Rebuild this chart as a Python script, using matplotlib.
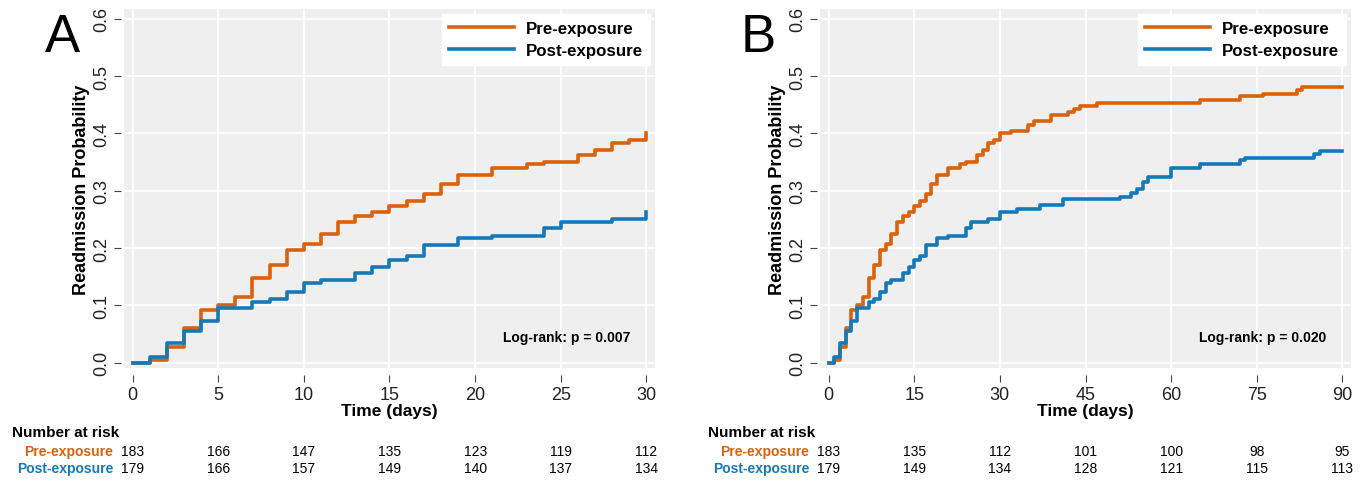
import matplotlib.pyplot as plt
from matplotlib.transforms import blended_transform_factory

plt.rcParams['font.family'] = ['Liberation Sans', 'DejaVu Sans']

ORANGE = "#D9620B"
BLUE = "#1579B8"

# Panel A: 30-day readmission (step times, cumulative probability)
a_pre_t = [0, 1, 2, 3, 4, 5, 6, 7, 8, 9, 10, 11, 12, 13, 14, 15, 16, 17, 18, 19,
           21, 23, 24, 26, 27, 28, 29, 30]
a_pre_p = [0.0, 0.005, 0.028, 0.060, 0.093, 0.100, 0.114, 0.148, 0.170, 0.197, 0.207,
           0.224, 0.246, 0.256, 0.263, 0.274, 0.283, 0.295, 0.311, 0.328,
           0.339, 0.346, 0.350, 0.362, 0.372, 0.383, 0.389, 0.400]
a_post_t = [0, 1, 2, 3, 4, 5, 7, 8, 9, 10, 11, 13, 14, 15, 16, 17, 19, 21, 24, 25, 28, 30]
a_post_p = [0.0, 0.010, 0.034, 0.056, 0.073, 0.096, 0.106, 0.112, 0.124, 0.140, 0.145,
            0.156, 0.167, 0.179, 0.186, 0.206, 0.218, 0.222, 0.235, 0.246, 0.251, 0.263]

# Panel B: 90-day readmission
b_pre_t = [0, 1, 2, 3, 4, 5, 6, 7, 8, 9, 10, 11, 12, 13, 14, 15, 16, 17, 18, 19,
           21, 23, 24, 26, 27, 28, 29, 30, 32, 35, 36, 39, 42, 43, 44, 47, 65, 72, 76, 82, 83, 90]
b_pre_p = [0.0, 0.005, 0.028, 0.060, 0.093, 0.100, 0.114, 0.148, 0.170, 0.197, 0.207,
           0.224, 0.246, 0.256, 0.263, 0.274, 0.283, 0.295, 0.311, 0.328,
           0.339, 0.346, 0.350, 0.362, 0.372, 0.383, 0.389, 0.400, 0.405, 0.414, 0.421,
           0.432, 0.437, 0.443, 0.448, 0.453, 0.459, 0.465, 0.469, 0.475, 0.481, 0.481]
b_post_t = [0, 1, 2, 3, 4, 5, 7, 8, 9, 10, 11, 13, 14, 15, 16, 17, 19, 21, 24, 25, 28, 30,
            33, 37, 41, 51, 53, 54, 55, 56, 60, 65, 72, 73, 85, 86, 90]
b_post_p = [0.0, 0.010, 0.034, 0.056, 0.073, 0.096, 0.106, 0.112, 0.124, 0.140, 0.145,
            0.156, 0.167, 0.179, 0.186, 0.206, 0.218, 0.222, 0.235, 0.246, 0.251, 0.263,
            0.269, 0.275, 0.285, 0.290, 0.297, 0.304, 0.315, 0.324, 0.340, 0.347, 0.353,
            0.357, 0.365, 0.369, 0.369]

a_ticks = [0, 5, 10, 15, 20, 25, 30]
b_ticks = [0, 15, 30, 45, 60, 75, 90]
a_risk_pre = [183, 166, 147, 135, 123, 119, 112]
a_risk_post = [179, 166, 157, 149, 140, 137, 134]
b_risk_pre = [183, 135, 112, 101, 100, 98, 95]
b_risk_post = [179, 149, 134, 128, 121, 115, 113]

fig = plt.figure(figsize=(13.68, 4.85), dpi=100)
W, H = 1368, 485


def fy(px):
    return 1 - px / H


panels = [
    ("A", 124, a_pre_t, a_pre_p, a_post_t, a_post_p, a_ticks, a_risk_pre, a_risk_post,
     "Log-rank: p = 0.007", 30),
    ("B", 820, b_pre_t, b_pre_p, b_post_t, b_post_p, b_ticks, b_risk_pre, b_risk_post,
     "Log-rank: p = 0.020", 90),
]

for letter, left, pt, pp, qt, qp, ticks, rpre, rpost, lr, xmax in panels:
    ax = fig.add_axes([left / W, fy(369), 531 / W, 359 / H])
    ax.set_facecolor("#EFEFEF")
    ax.step(pt, pp, where="post", color=ORANGE, lw=2.6, label="Pre-exposure")
    ax.step(qt, qp, where="post", color=BLUE, lw=2.6, label="Post-exposure")
    pad = xmax / 60
    ax.set_xlim(-pad, xmax + pad)
    ax.set_ylim(-0.009, 0.617)
    ax.set_xticks(ticks)
    ax.set_yticks([0, 0.1, 0.2, 0.3, 0.4, 0.5, 0.6])
    ax.set_yticklabels(["0.0", "0.1", "0.2", "0.3", "0.4", "0.5", "0.6"])
    ax.grid(True, color="white", lw=1.3)
    ax.set_axisbelow(True)
    for s in ax.spines.values():
        s.set_visible(False)
    ax.spines["bottom"].set_position(("outward", 5))
    ax.spines["left"].set_position(("outward", 2))
    ax.tick_params(axis="both", length=5, color="#444444", labelsize=13, labelcolor="#222222")
    ax.tick_params(axis="x", pad=3)
    ax.tick_params(axis="y", labelrotation=90, pad=3)
    for lab in ax.get_yticklabels():
        lab.set_va("center")
    ax.set_xlabel("Time (days)", fontsize=12.5, fontweight="bold", labelpad=0)
    ax.set_ylabel("Readmission Probability", fontsize=13, fontweight="bold", labelpad=2)
    ax.legend(loc="upper right", frameon=True, fancybox=False, edgecolor="white",
              framealpha=1, prop={"weight": "bold", "size": 12.2},
              handlelength=3.85, handletextpad=0.7, borderpad=0.4,
              borderaxespad=0.3, labelspacing=0.42)
    ax.text(0.953, 0.085, lr, transform=ax.transAxes, ha="right", va="center",
            fontsize=10, fontweight="bold")
    fig.text((left - 79) / W, fy(38), letter, fontsize=38, ha="left", va="center")

    tr = blended_transform_factory(ax.transData, fig.transFigure)
    fig.text((left - 112) / W, fy(433), "Number at risk", fontsize=11,
             fontweight="bold", ha="left", va="center")
    fig.text((left - 11) / W, fy(452), "Pre-exposure", fontsize=10, fontweight="bold",
             color=ORANGE, ha="right", va="center")
    fig.text((left - 11) / W, fy(469), "Post-exposure", fontsize=10, fontweight="bold",
             color=BLUE, ha="right", va="center")
    for t, n1, n2 in zip(ticks, rpre, rpost):
        fig.text(t, fy(452), str(n1), transform=tr, fontsize=10, ha="center", va="center")
        fig.text(t, fy(469), str(n2), transform=tr, fontsize=10, ha="center", va="center")

fig.savefig("out.png", dpi=100)
